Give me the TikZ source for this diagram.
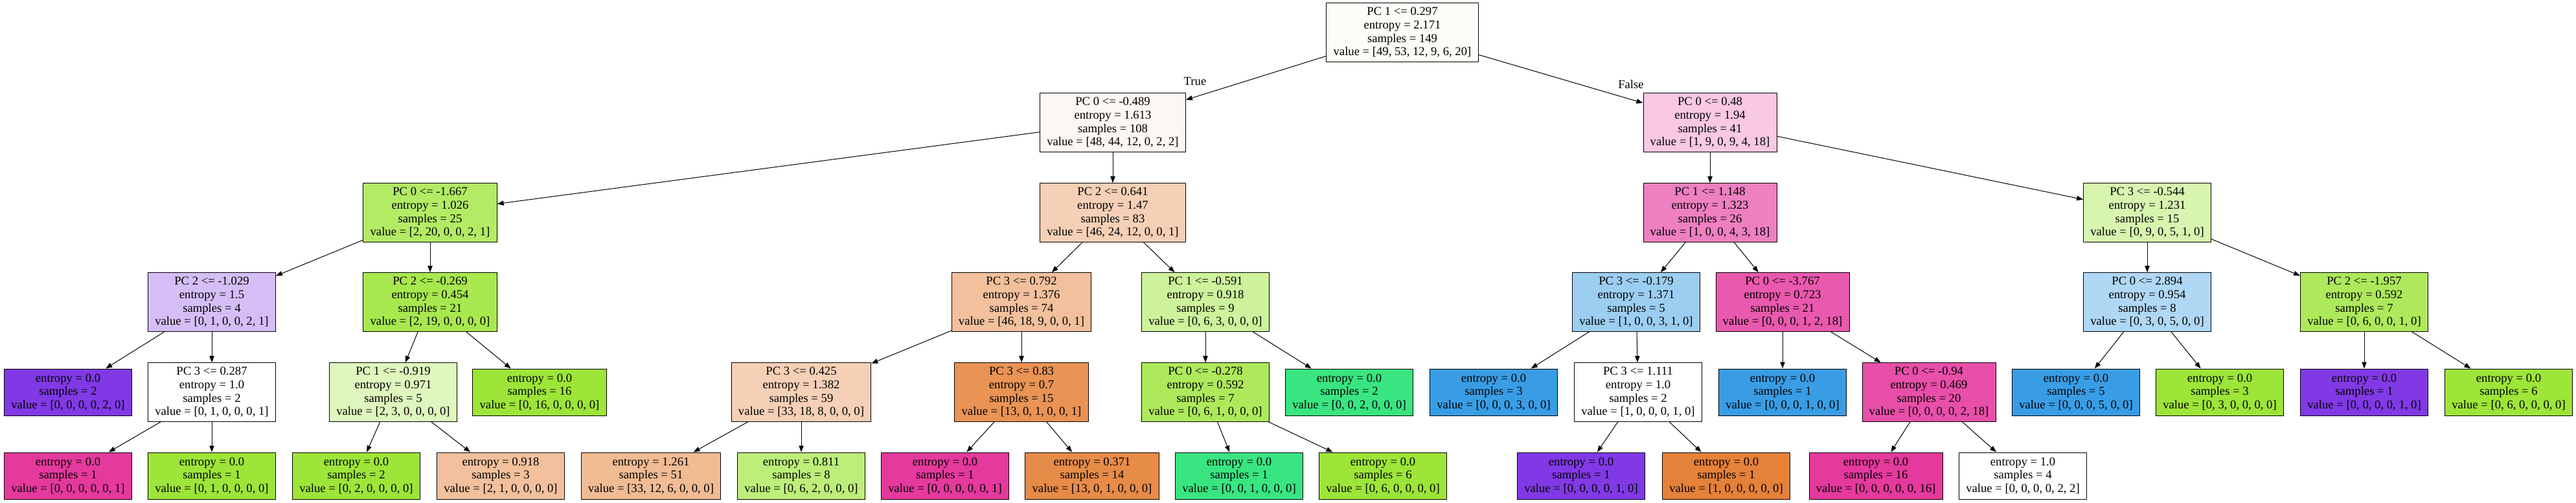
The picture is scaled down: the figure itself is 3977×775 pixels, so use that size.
\documentclass[tikz,border=0pt]{standalone}
\usepackage{fontspec}
\setmainfont{Liberation Serif}
\usepackage{xcolor}
\usetikzlibrary{arrows.meta,shapes,positioning}

\definecolor{treeorange}{RGB}{229,129,57}
\definecolor{treegreen}{RGB}{157,229,57}
\definecolor{treeteal}{RGB}{57,229,129}
\definecolor{treeblue}{RGB}{57,157,229}
\definecolor{treepurple}{RGB}{129,57,229}
\definecolor{treepink}{RGB}{229,57,157}

\tikzset{
  testbox/.style={draw, rectangle, line width=0.75pt, align=center,
    inner xsep=8pt, inner ysep=0pt, minimum height=68pt,
    font=\fontsize{14pt}{15.4pt}\selectfont},
  leafbox/.style={testbox, minimum height=54pt},
  treearrow/.style={->, >={Triangle[length=7.5pt,width=5.5pt]}, line width=0.75pt},
}

\begin{document}
\begin{tikzpicture}[x=0.75pt,y=-0.75pt]
    \useasboundingbox (0,0) rectangle (3977,775);

    % depth 0 and 1
    \node[testbox, fill=treegreen!4!white] (n0) at (2165,50) {PC 1 <= 0.297\\entropy = 2.171\\samples = 149\\value = [49, 53, 12, 9, 6, 20]};
    \node[testbox, fill=treeorange!6!white] (n1) at (1718,189) {PC 0 <= -0.489\\entropy = 1.613\\samples = 108\\value = [48, 44, 12, 0, 2, 2]};
    \node[testbox, fill=treepink!28!white] (n2) at (2640,189) {PC 0 <= 0.48\\entropy = 1.94\\samples = 41\\value = [1, 9, 0, 9, 4, 18]};

    % depth 2
    \node[testbox, fill=treegreen!78!white] (n3) at (664,328) {PC 0 <= -1.667\\entropy = 1.026\\samples = 25\\value = [2, 20, 0, 0, 2, 1]};
    \node[testbox, fill=treeorange!37!white] (n4) at (1718,328) {PC 2 <= 0.641\\entropy = 1.47\\samples = 83\\value = [46, 24, 12, 0, 0, 1]};
    \node[testbox, fill=treepink!64!white] (n5) at (2640,328) {PC 1 <= 1.148\\entropy = 1.323\\samples = 26\\value = [1, 0, 0, 4, 3, 18]};
    \node[testbox, fill=treegreen!40!white] (n6) at (3315,328) {PC 3 <= -0.544\\entropy = 1.231\\samples = 15\\value = [0, 9, 0, 5, 1, 0]};

    % depth 3
    \node[testbox, fill=treepurple!33!white] (n7) at (327,466) {PC 2 <= -1.029\\entropy = 1.5\\samples = 4\\value = [0, 1, 0, 0, 2, 1]};
    \node[testbox, fill=treegreen!89!white] (n8) at (664,466) {PC 2 <= -0.269\\entropy = 0.454\\samples = 21\\value = [2, 19, 0, 0, 0, 0]};
    \node[testbox, fill=treeorange!50!white] (n9) at (1577,466) {PC 3 <= 0.792\\entropy = 1.376\\samples = 74\\value = [46, 18, 9, 0, 0, 1]};
    \node[testbox, fill=treegreen!50!white] (n10) at (1861,466) {PC 1 <= -0.591\\entropy = 0.918\\samples = 9\\value = [0, 6, 3, 0, 0, 0]};
    \node[testbox, fill=treeblue!50!white] (n11) at (2526,466) {PC 3 <= -0.179\\entropy = 1.371\\samples = 5\\value = [1, 0, 0, 3, 1, 0]};
    \node[testbox, fill=treepink!84!white] (n12) at (2752,466) {PC 0 <= -3.767\\entropy = 0.723\\samples = 21\\value = [0, 0, 0, 1, 2, 18]};
    \node[testbox, fill=treeblue!40!white] (n13) at (3315,466) {PC 0 <= 2.894\\entropy = 0.954\\samples = 8\\value = [0, 3, 0, 5, 0, 0]};
    \node[testbox, fill=treegreen!83!white] (n14) at (3650,466) {PC 2 <= -1.957\\entropy = 0.592\\samples = 7\\value = [0, 6, 0, 0, 1, 0]};

    % depth 4
    \node[leafbox, fill=treepurple] (l1) at (105,605) {entropy = 0.0\\samples = 2\\value = [0, 0, 0, 0, 2, 0]};
    \node[testbox, fill=white] (n15) at (327,605) {PC 3 <= 0.287\\entropy = 1.0\\samples = 2\\value = [0, 1, 0, 0, 0, 1]};
    \node[testbox, fill=treegreen!33!white] (n16) at (607,605) {PC 1 <= -0.919\\entropy = 0.971\\samples = 5\\value = [2, 3, 0, 0, 0, 0]};
    \node[leafbox, fill=treegreen] (l2) at (833,605) {entropy = 0.0\\samples = 16\\value = [0, 16, 0, 0, 0, 0]};
    \node[testbox, fill=treeorange!37!white] (n17) at (1237,605) {PC 3 <= 0.425\\entropy = 1.382\\samples = 59\\value = [33, 18, 8, 0, 0, 0]};
    \node[testbox, fill=treeorange!86!white] (n18) at (1577,605) {PC 3 <= 0.83\\entropy = 0.7\\samples = 15\\value = [13, 0, 1, 0, 0, 1]};
    \node[testbox, fill=treegreen!83!white] (n19) at (1861,605) {PC 0 <= -0.278\\entropy = 0.592\\samples = 7\\value = [0, 6, 1, 0, 0, 0]};
    \node[leafbox, fill=treeteal] (l3) at (2083,605) {entropy = 0.0\\samples = 2\\value = [0, 0, 2, 0, 0, 0]};
    \node[leafbox, fill=treeblue] (l4) at (2306,605) {entropy = 0.0\\samples = 3\\value = [0, 0, 0, 3, 0, 0]};
    \node[testbox, fill=white] (n20) at (2529,605) {PC 3 <= 1.111\\entropy = 1.0\\samples = 2\\value = [1, 0, 0, 0, 1, 0]};
    \node[leafbox, fill=treeblue] (l5) at (2752,605) {entropy = 0.0\\samples = 1\\value = [0, 0, 0, 1, 0, 0]};
    \node[testbox, fill=treepink!89!white] (n21) at (2978,605) {PC 0 <= -0.94\\entropy = 0.469\\samples = 20\\value = [0, 0, 0, 0, 2, 18]};
    \node[leafbox, fill=treeblue] (l6) at (3205,605) {entropy = 0.0\\samples = 5\\value = [0, 0, 0, 5, 0, 0]};
    \node[leafbox, fill=treegreen] (l7) at (3427,605) {entropy = 0.0\\samples = 3\\value = [0, 3, 0, 0, 0, 0]};
    \node[leafbox, fill=treepurple] (l8) at (3650,605) {entropy = 0.0\\samples = 1\\value = [0, 0, 0, 0, 1, 0]};
    \node[leafbox, fill=treegreen] (l9) at (3873,605) {entropy = 0.0\\samples = 6\\value = [0, 6, 0, 0, 0, 0]};

    % depth 5
    \node[leafbox, fill=treepink] (l10) at (105,734) {entropy = 0.0\\samples = 1\\value = [0, 0, 0, 0, 0, 1]};
    \node[leafbox, fill=treegreen] (l11) at (327,734) {entropy = 0.0\\samples = 1\\value = [0, 1, 0, 0, 0, 0]};
    \node[leafbox, fill=treegreen] (l12) at (550,734) {entropy = 0.0\\samples = 2\\value = [0, 2, 0, 0, 0, 0]};
    \node[leafbox, fill=treeorange!50!white] (l13) at (773,734) {entropy = 0.918\\samples = 3\\value = [2, 1, 0, 0, 0, 0]};
    \node[leafbox, fill=treeorange!54!white] (l14) at (1005,734) {entropy = 1.261\\samples = 51\\value = [33, 12, 6, 0, 0, 0]};
    \node[leafbox, fill=treegreen!67!white] (l15) at (1237,734) {entropy = 0.811\\samples = 8\\value = [0, 6, 2, 0, 0, 0]};
    \node[leafbox, fill=treepink] (l16) at (1459,734) {entropy = 0.0\\samples = 1\\value = [0, 0, 0, 0, 0, 1]};
    \node[leafbox, fill=treeorange!92!white] (l17) at (1686,734) {entropy = 0.371\\samples = 14\\value = [13, 0, 1, 0, 0, 0]};
    \node[leafbox, fill=treeteal] (l18) at (1913,734) {entropy = 0.0\\samples = 1\\value = [0, 0, 1, 0, 0, 0]};
    \node[leafbox, fill=treegreen] (l19) at (2135,734) {entropy = 0.0\\samples = 6\\value = [0, 6, 0, 0, 0, 0]};
    \node[leafbox, fill=treepurple] (l20) at (2441,734) {entropy = 0.0\\samples = 1\\value = [0, 0, 0, 0, 1, 0]};
    \node[leafbox, fill=treeorange] (l21) at (2665,734) {entropy = 0.0\\samples = 1\\value = [1, 0, 0, 0, 0, 0]};
    \node[leafbox, fill=treepink] (l22) at (2896,734) {entropy = 0.0\\samples = 16\\value = [0, 0, 0, 0, 0, 16]};
    \node[leafbox, fill=white] (l23) at (3123,734) {entropy = 1.0\\samples = 4\\value = [0, 0, 0, 0, 2, 2]};

    % branches
    \draw[treearrow] (n0) -- (n1);
    \draw[treearrow] (n0) -- (n2);
    \node[font=\fontsize{14pt}{15.4pt}\selectfont] (ltrue) at (1845,125) {True};
    \node[font=\fontsize{14pt}{15.4pt}\selectfont] (lfalse) at (2518,130) {False};

    \draw[treearrow] (n1) -- (n3);
    \draw[treearrow] (n1) -- (n4);
    \draw[treearrow] (n2) -- (n5);
    \draw[treearrow] (n2) -- (n6);

    \draw[treearrow] (n3) -- (n7);
    \draw[treearrow] (n3) -- (n8);
    \draw[treearrow] (n4) -- (n9);
    \draw[treearrow] (n4) -- (n10);
    \draw[treearrow] (n5) -- (n11);
    \draw[treearrow] (n5) -- (n12);
    \draw[treearrow] (n6) -- (n13);
    \draw[treearrow] (n6) -- (n14);

    \draw[treearrow] (n7) -- (l1);
    \draw[treearrow] (n7) -- (n15);
    \draw[treearrow] (n8) -- (n16);
    \draw[treearrow] (n8) -- (l2);
    \draw[treearrow] (n9) -- (n17);
    \draw[treearrow] (n9) -- (n18);
    \draw[treearrow] (n10) -- (n19);
    \draw[treearrow] (n10) -- (l3);
    \draw[treearrow] (n11) -- (l4);
    \draw[treearrow] (n11) -- (n20);
    \draw[treearrow] (n12) -- (l5);
    \draw[treearrow] (n12) -- (n21);
    \draw[treearrow] (n13) -- (l6);
    \draw[treearrow] (n13) -- (l7);
    \draw[treearrow] (n14) -- (l8);
    \draw[treearrow] (n14) -- (l9);

    \draw[treearrow] (n15) -- (l10);
    \draw[treearrow] (n15) -- (l11);
    \draw[treearrow] (n16) -- (l12);
    \draw[treearrow] (n16) -- (l13);
    \draw[treearrow] (n17) -- (l14);
    \draw[treearrow] (n17) -- (l15);
    \draw[treearrow] (n18) -- (l16);
    \draw[treearrow] (n18) -- (l17);
    \draw[treearrow] (n19) -- (l18);
    \draw[treearrow] (n19) -- (l19);
    \draw[treearrow] (n20) -- (l20);
    \draw[treearrow] (n20) -- (l21);
    \draw[treearrow] (n21) -- (l22);
    \draw[treearrow] (n21) -- (l23);
\end{tikzpicture}
\end{document}
